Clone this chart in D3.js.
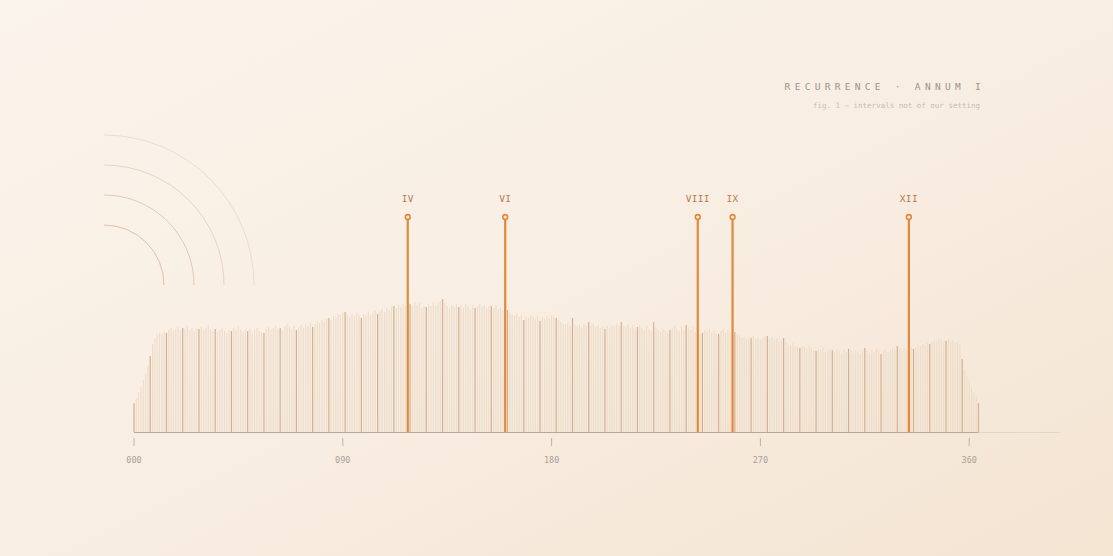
<!DOCTYPE html>
<html><head><meta charset="utf-8">
<script src="https://cdn.jsdelivr.net/npm/d3@7/dist/d3.min.js"></script>
<style>
html,body{margin:0;padding:0;background:#f8eee3;}
svg{display:block;}
</style></head>
<body>
<script>
// ---- DATA ----
const days = d3.range(0, 365);
const dailyValues = [
  29, 33, 40, 45, 52, 58, 66,
  76, 88, 94, 98, 99, 98, 100,
  99, 102, 104, 101, 103, 105, 102,
  104, 103, 106, 102, 104, 101, 103,
  103, 105, 102, 104, 107, 103, 101,
  103, 100, 102, 104, 101, 99, 102,
  101, 104, 103, 106, 102, 100, 103,
  101, 103, 99, 102, 104, 101, 100,
  99, 103, 105, 102, 104, 106, 103,
  104, 102, 106, 108, 105, 103, 106,
  102, 105, 107, 104, 108, 106, 109,
  105, 108, 111, 109, 112, 110, 113,
  114, 112, 116, 115, 118, 117, 119,
  120, 117, 115, 118, 116, 119, 117,
  114, 118, 116, 120, 117, 119, 121,
  118, 121, 123, 120, 124, 122, 125,
  126, 124, 127, 125, 128, 126, 127,
  128, 126, 130, 127, 129, 124, 126,
  125, 128, 126, 130, 127, 129, 131,
  133, 129, 126, 124, 127, 125, 128,
  125, 127, 124, 128, 126, 123, 127,
  124, 126, 128, 125, 127, 124, 126,
  126, 124, 127, 123, 125, 122, 124,
  122, 119, 117, 116, 118, 115, 117,
  112, 116, 114, 117, 115, 113, 116,
  111, 115, 113, 116, 114, 117, 115,
  114, 112, 110, 108, 107, 109, 106,
  114, 108, 106, 107, 105, 108, 106,
  110, 106, 108, 105, 107, 104, 106,
  103, 106, 104, 107, 105, 108, 106,
  110, 107, 105, 108, 104, 106, 103,
  105, 107, 104, 102, 106, 103, 101,
  110, 105, 102, 100, 103, 101, 99,
  102, 104, 106, 103, 101, 105, 102,
  107, 104, 102, 105, 100, 103, 98,
  99, 102, 100, 103, 99, 101, 98,
  98, 101, 103, 99, 102, 100, 99,
  100, 97, 96, 94, 95, 93, 95,
  94, 96, 93, 95, 92, 94, 96,
  96, 93, 95, 92, 94, 91, 93,
  94, 90, 88, 87, 89, 86, 85,
  84, 86, 85, 83, 86, 84, 82,
  81, 83, 82, 84, 80, 82, 83,
  82, 80, 83, 81, 79, 82, 80,
  83, 81, 79, 82, 80, 78, 81,
  84, 81, 79, 82, 80, 83, 81,
  78, 81, 83, 80, 82, 84, 82,
  86, 83, 81, 84, 82, 83, 85,
  83, 85, 87, 86, 88, 87, 89,
  88, 90, 92, 91, 93, 92, 90,
  91, 93, 90, 92, 89, 91, 88,
  73, 62, 56, 52, 45, 40, 35,
  29
];
const highlightDays   = [118, 160, 243, 258, 334];
const highlightLabels = ["IV", "VI", "VIII", "IX", "XII"];
const highlightLevel  = 215;
const tickDays   = [0, 90, 180, 270, 360];
const tickLabels = ["000", "090", "180", "270", "360"];
const axisEndDay = 399;
const ringRadii  = [60, 90, 120, 150];
const titleText    = "RECURRENCE · ANNUM I";
const subtitleText = "fig. 1 — intervals not of our setting";

// ---- LAYOUT ----
const W = 1113, H = 556;
const svg = d3.select("body").append("svg").attr("width", W).attr("height", H);

const defs = svg.append("defs");
const bg = defs.append("linearGradient").attr("id","bg")
  .attr("x1","0").attr("y1","0").attr("x2","1").attr("y2","1");
bg.append("stop").attr("offset","0%").attr("stop-color","#fbf4ec");
bg.append("stop").attr("offset","55%").attr("stop-color","#f8ede1");
bg.append("stop").attr("offset","100%").attr("stop-color","#f4e4d2");
svg.append("rect").attr("width",W).attr("height",H).attr("fill","url(#bg)");

const x = d3.scaleLinear().domain([0, 360]).range([134, 969.2]);
const y = d3.scaleLinear().domain([0, 215]).range([432, 217]);

const mono = "'DejaVu Sans Mono', 'Liberation Mono', monospace";

// rings
const ringCx = 104, ringCy = 285;
const ringColors = ["#dcc2ac", "#e1cab6", "#e6d4c3", "#ebdccf"];
ringRadii.forEach((r, i) => {
  const p = d3.path();
  p.arc(ringCx, ringCy, r, -Math.PI/2, 0);
  svg.append("path").attr("d", p.toString())
    .attr("fill","none").attr("stroke", ringColors[i]).attr("stroke-width", 1);
});

// light daily bars
const g = svg.append("g");
g.selectAll("line.day").data(days.filter(d => d % 7 !== 0)).join("line")
  .attr("class","day")
  .attr("x1", d => x(d)).attr("x2", d => x(d))
  .attr("y1", y(0)).attr("y2", d => y(dailyValues[d]))
  .attr("stroke", "#eddcc8").attr("stroke-width", 1.1);

// weekly darker bars
g.selectAll("line.week").data(days.filter(d => d % 7 === 0)).join("line")
  .attr("class","week")
  .attr("x1", d => x(d)).attr("x2", d => x(d))
  .attr("y1", y(0)).attr("y2", d => y(dailyValues[d]))
  .attr("stroke", "#cfb094").attr("stroke-width", 1.2);

// baseline
svg.append("line").attr("x1", x(0)).attr("x2", x(axisEndDay))
  .attr("y1", y(0)+0.5).attr("y2", y(0)+0.5)
  .attr("stroke", "#e6d5c4").attr("stroke-width", 1);
svg.append("line").attr("x1", x(0)).attr("x2", x(364))
  .attr("y1", y(0)+0.5).attr("y2", y(0)+0.5)
  .attr("stroke", "#b9a797").attr("stroke-width", 1.2);

// highlights
const hl = svg.append("g");
highlightDays.forEach((d, i) => {
  hl.append("line").attr("x1", x(d)).attr("x2", x(d))
    .attr("y1", y(0)).attr("y2", y(highlightLevel))
    .attr("stroke", "#e2883a").attr("stroke-width", 2.2);
  hl.append("circle").attr("cx", x(d)).attr("cy", y(highlightLevel)).attr("r", 2.4)
    .attr("fill", "#f9efe4").attr("stroke", "#e2883a").attr("stroke-width", 1.6);
  hl.append("text").attr("x", x(d)).attr("y", y(highlightLevel) - 15)
    .attr("text-anchor","middle").attr("font-family", mono).attr("font-size", 9.5)
    .attr("fill", "#b27c52").attr("letter-spacing", 0.3).text(highlightLabels[i]);
});

// ticks
const ax = svg.append("g");
tickDays.forEach((d, i) => {
  ax.append("line").attr("x1", x(d)).attr("x2", x(d)).attr("y1", 438).attr("y2", 446)
    .attr("stroke", "#bfb2a6").attr("stroke-width", 1);
  ax.append("text").attr("x", x(d)).attr("y", 463).attr("text-anchor","middle")
    .attr("font-family", mono).attr("font-size", 8.5).attr("fill", "#a99f96")
    .text(tickLabels[i]);
});

// title
svg.append("text").attr("x", 985).attr("y", 90).attr("text-anchor","end")
  .attr("font-family", mono).attr("font-size", 9.5).attr("letter-spacing", 4.3)
  .attr("fill", "#9d9289").text(titleText);
svg.append("text").attr("x", 980).attr("y", 108).attr("text-anchor","end")
  .attr("font-family", mono).attr("font-size", 7.5)
  .attr("fill", "#cbbcae").text(subtitleText);
</script>
</body></html>
